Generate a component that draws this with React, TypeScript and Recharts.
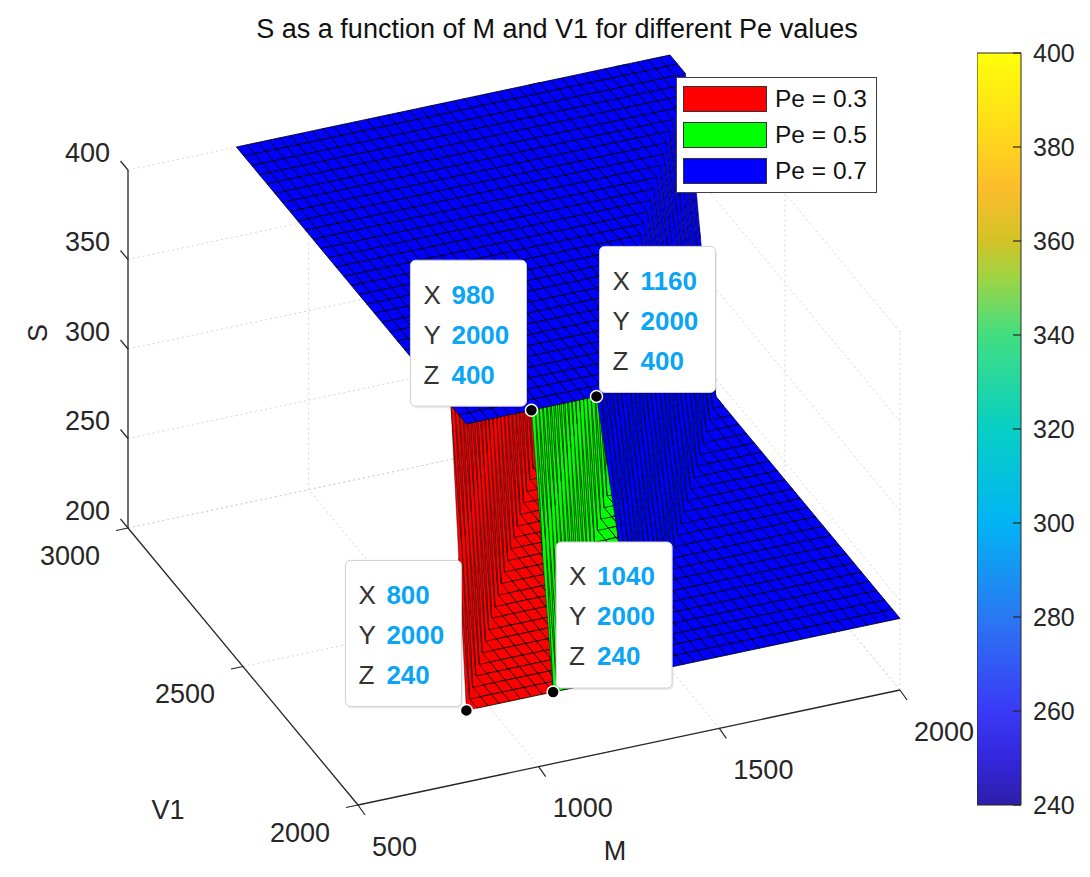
import React from 'react'
import { ScatterChart, Scatter, XAxis, YAxis, Legend, BarChart, Bar } from 'recharts'

const WIDTH = 1090
const HEIGHT = 877
const FONT = '"Liberation Sans", Arial, Helvetica, sans-serif'
const INK = '#262626'

// grid the surfaces are sampled on
const M_GRID = [
  800, 830, 860, 890, 920, 950, 980, 1010, 1040, 1070, 1100, 1130, 1160, 1190, 1220, 1250,
  1280, 1310, 1340, 1370, 1400, 1430, 1460, 1490, 1520, 1550, 1580, 1610, 1640, 1670, 1700,
  1730, 1760, 1790, 1820, 1850, 1880, 1910, 1940, 1970, 2000,
]
const V1_GRID = [
  2000, 2033, 2067, 2100, 2133, 2167, 2200, 2233, 2267, 2300, 2333, 2367, 2400, 2433, 2467,
  2500, 2533, 2567, 2600, 2633, 2667, 2700, 2733, 2767, 2800, 2833, 2867, 2900, 2933, 2967,
  3000,
]

// one surface per Pe
const PE_LABELS = ['Pe = 0.3', 'Pe = 0.5', 'Pe = 0.7']
const PE_COLORS = ['#ff0000', '#00ff00', '#0000ff']
// M column where S starts falling from 400 on the front row (V1 = 2000)
const DROP_START_M = [740, 980, 1160]
// the drop moves one M column further back for every V1 row
const DROP_SHIFT_PER_ROW = 1
// S on the successive M columns of the drop
const DROP_S_RED = [400, 320, 240]
const DROP_S_GREEN = [400, 320, 240]
const DROP_S_BLUE = [400, 360, 318, 278, 240]
const M_STEP = 30

// axes
const M_LIM = [500, 2000]
const V1_LIM = [2000, 3000]
const S_LIM = [200, 400]
const M_TICKS = [500, 1000, 1500, 2000]
const V1_TICKS = [2000, 2500, 3000]
const S_TICKS = [200, 250, 300, 350, 400]
const COLORBAR_TICKS = [240, 260, 280, 300, 320, 340, 360, 380, 400]
const COLORBAR_RANGE = [{ name: 'S', range: [240, 400] }]

// data tips
const TIP_M = [980, 1160, 800, 1040]
const TIP_V1 = [2000, 2000, 2000, 2000]
const TIP_S = [400, 400, 240, 240]
const TIP_SIDE = ['left', 'right', 'left', 'right']

const PARULA: [number, string][] = [
  [0, '#2e1ea8'],
  [0.06, '#3326dc'],
  [0.125, '#3a3af6'],
  [0.25, '#2a78f2'],
  [0.375, '#02b4f4'],
  [0.5, '#06cfc4'],
  [0.625, '#42de80'],
  [0.7, '#9dd444'],
  [0.75, '#d3c326'],
  [0.82, '#fcbd2c'],
  [0.875, '#ffd31e'],
  [1, '#ffff0a'],
]

// 3-D view: screen length of each full axis, in px (y up)
const VIEW = { mx: 542, my: 115, vx: -230, vy: 277, sy: 358 }
// where the (M=500, V1=2000, S=200) corner sits in the chart
const ORIGIN = { x: 358, y: 805 }
const X_DOMAIN = [-ORIGIN.x, WIDTH - ORIGIN.x]
const Y_DOMAIN = [ORIGIN.y - HEIGHT, ORIGIN.y]

const frac = (val: number, lim: number[]) => (val - lim[0]) / (lim[1] - lim[0])

function project(m: number, v: number, s: number) {
  const a = frac(m, M_LIM)
  const b = frac(v, V1_LIM)
  const c = frac(s, S_LIM)
  return { px: VIEW.mx * a + VIEW.vx * b, py: VIEW.my * a + VIEW.vy * b + VIEW.sy * c }
}

// direction that does not move on screen = towards the viewer
const NORMAL = [
  VIEW.vx * VIEW.sy,
  -VIEW.mx * VIEW.sy,
  VIEW.mx * VIEW.vy - VIEW.vx * VIEW.my,
]
function depth(m: number, v: number, s: number) {
  return frac(m, M_LIM) * NORMAL[0] + frac(v, V1_LIM) * NORMAL[1] + frac(s, S_LIM) * NORMAL[2]
}

const DROPS = [DROP_S_RED, DROP_S_GREEN, DROP_S_BLUE]
// S of surface k at grid node (column i, row j)
function nodeS(k: number, i: number, j: number) {
  const prof = DROPS[k]
  const col = Math.round((M_GRID[i] - DROP_START_M[k]) / M_STEP) - j * DROP_SHIFT_PER_ROW
  if (col <= 0) return prof[0]
  if (col >= prof.length - 1) return prof[prof.length - 1]
  return prof[col]
}

// build every mesh cell, far ones first
type Quad = { k: number; d: number; steep: boolean; corners: { px: number; py: number }[] }
const quads: Quad[] = []
const LAST = PE_LABELS.length - 1
for (let k = 0; k < PE_LABELS.length; k++) {
  for (let i = 0; i < M_GRID.length - 1; i++) {
    for (let j = 0; j < V1_GRID.length - 1; j++) {
      const nodes = [
        [i, j],
        [i + 1, j],
        [i + 1, j + 1],
        [i, j + 1],
      ]
      const s = nodes.map(([a, b]) => nodeS(k, a, b))
      // skip cells lying exactly under the last surface
      if (k < LAST && nodes.every(([a, b], n) => nodeS(LAST, a, b) === s[n])) continue
      let d = 0
      nodes.forEach(([a, b], n) => (d += depth(M_GRID[a], V1_GRID[b], s[n]) / 4))
      quads.push({
        k,
        d,
        steep: Math.max(...s) !== Math.min(...s),
        corners: nodes.map(([a, b], n) => project(M_GRID[a], V1_GRID[b], s[n])),
      })
    }
  }
}
quads.sort((a, b) => a.d - b.d || a.k - b.k)
const SURFACE_POINTS = quads.flatMap((q) => q.corners)
const SURFACE_FILLS = quads.map((q) => PE_COLORS[q.k])
const SURFACE_EDGES = quads.map((q) => (q.steep ? 0.45 : 0.8))

// back planes grid and axis lines, as pairs of end points
const line3 = (a: number[], b: number[]) => [project(a[0], a[1], a[2]), project(b[0], b[1], b[2])]
const GRID_POINTS = [
  ...S_TICKS.flatMap((s) => line3([M_LIM[0], V1_LIM[1], s], [M_LIM[1], V1_LIM[1], s])),
  ...M_TICKS.flatMap((m) => line3([m, V1_LIM[1], S_LIM[0]], [m, V1_LIM[1], S_LIM[1]])),
  ...S_TICKS.flatMap((s) => line3([M_LIM[1], V1_LIM[0], s], [M_LIM[1], V1_LIM[1], s])),
  ...V1_TICKS.flatMap((v) => line3([M_LIM[1], v, S_LIM[0]], [M_LIM[1], v, S_LIM[1]])),
  ...M_TICKS.flatMap((m) => line3([m, V1_LIM[0], S_LIM[0]], [m, V1_LIM[1], S_LIM[0]])),
  ...V1_TICKS.flatMap((v) => line3([M_LIM[0], v, S_LIM[0]], [M_LIM[1], v, S_LIM[0]])),
]
const AXIS_POINTS = [
  ...line3([M_LIM[0], V1_LIM[0], S_LIM[0]], [M_LIM[1], V1_LIM[0], S_LIM[0]]),
  ...line3([M_LIM[0], V1_LIM[0], S_LIM[0]], [M_LIM[0], V1_LIM[1], S_LIM[0]]),
  ...line3([M_LIM[0], V1_LIM[1], S_LIM[0]], [M_LIM[0], V1_LIM[1], S_LIM[1]]),
]

const TICK_POINTS = [
  ...M_TICKS.map((m) => ({ ...project(m, V1_LIM[0], S_LIM[0]), label: m, axis: 'm' })),
  ...V1_TICKS.map((v) => ({ ...project(M_LIM[0], v, S_LIM[0]), label: v, axis: 'v' })),
  ...S_TICKS.map((s) => ({ ...project(M_LIM[0], V1_LIM[1], s), label: s, axis: 's' })),
]
const TICK_STYLE: Record<string, any> = {
  m: { dx: 7, dy: 10, lx: 14, ly: 41, anchor: 'start' },
  v: { dx: -12, dy: 2.5, lx: -28, ly: 27, anchor: 'end' },
  s: { dx: -7.5, dy: -9, lx: -18, ly: -18, anchor: 'end' },
}

const TIP_POINTS = TIP_M.map((m, i) => ({
  ...project(m, TIP_V1[i], TIP_S[i]),
  m,
  v: TIP_V1[i],
  s: TIP_S[i],
  side: TIP_SIDE[i],
}))

const NoDot = () => <g />

const drawSegments = (stroke: string, width: number, dash?: string) => (props: any) => {
  const pts = props.points || []
  const out = []
  for (let i = 0; i + 1 < pts.length; i += 2) {
    out.push(
      <line
        key={i}
        x1={pts[i].x}
        y1={pts[i].y}
        x2={pts[i + 1].x}
        y2={pts[i + 1].y}
        stroke={stroke}
        strokeWidth={width}
        strokeDasharray={dash}
      />
    )
  }
  return <g>{out}</g>
}

const drawQuads = (props: any) => {
  const pts = props.points || []
  const out = []
  for (let q = 0; q * 4 + 3 < pts.length; q++) {
    const p = pts.slice(q * 4, q * 4 + 4)
    out.push(
      <polygon
        key={q}
        points={p.map((a: any) => `${a.x},${a.y}`).join(' ')}
        fill={SURFACE_FILLS[q]}
        stroke="#000"
        strokeWidth={SURFACE_EDGES[q]}
        strokeLinejoin="round"
      />
    )
  }
  return <g>{out}</g>
}

const TickShape = (props: any) => {
  const { cx, cy, payload } = props
  const t = TICK_STYLE[payload.axis]
  return (
    <g>
      <line x1={cx} y1={cy} x2={cx + t.dx} y2={cy + t.dy} stroke={INK} strokeWidth={1.2} />
      <text
        x={cx + t.lx}
        y={cy + t.ly}
        dy="0.36em"
        textAnchor={t.anchor}
        fontSize={27}
        fontFamily={FONT}
        fill={INK}
      >
        {payload.label}
      </text>
    </g>
  )
}

const TipShape = (props: any) => {
  const { cx, cy, payload } = props
  const bw = 116
  const bh = 146
  const bx = payload.side === 'left' ? cx - 5 - bw : cx + 3
  const by = cy - 4 - bh
  const rows = [
    ['X', payload.m],
    ['Y', payload.v],
    ['Z', payload.s],
  ]
  return (
    <g>
      <rect x={bx + 1.5} y={by + 2} width={bw} height={bh} rx={5} fill="#000" opacity={0.08} />
      <rect x={bx} y={by} width={bw} height={bh} rx={5} fill="#fff" stroke="#d0d0d0" />
      {rows.map(([l, v], i) => (
        <text key={i} y={by + 34 + 40 * i} dy="0.36em" fontSize={26} fontFamily={FONT}>
          <tspan x={bx + 13} fill="#333">
            {l}
          </tspan>
          <tspan x={bx + 41} fill="#0aa5f5" fontWeight="bold">
            {v}
          </tspan>
        </text>
      ))}
      <circle cx={cx} cy={cy} r={6} fill="#000" stroke="#fff" strokeWidth={1.5} />
    </g>
  )
}

const LegendBox = () => (
  <div
    style={{
      width: 201,
      height: 116,
      boxSizing: 'border-box',
      border: '1px solid #404040',
      background: '#fff',
      position: 'relative',
      fontFamily: FONT,
    }}
  >
    {PE_LABELS.map((label, i) => (
      <div
        key={label}
        style={{ position: 'absolute', left: 6, top: 8 + i * 36, height: 26, display: 'flex', alignItems: 'center' }}
      >
        <div
          style={{ width: 84, height: 26, boxSizing: 'border-box', background: PE_COLORS[i], border: '1px solid #333' }}
        />
        <span style={{ marginLeft: 8, fontSize: 24.5, lineHeight: '26px', color: '#111' }}>{label}</span>
      </div>
    ))}
  </div>
)

const ColorbarTick = (props: any) => {
  const { x, y, payload } = props
  return (
    <g>
      <line x1={x - 8} x2={x} y1={y} y2={y} stroke={INK} strokeWidth={1.2} />
      <text x={x + 12} y={y} dy="0.36em" textAnchor="start" fontSize={25} fontFamily={FONT} fill={INK}>
        {payload.value}
      </text>
    </g>
  )
}

const textStyle = (x: number, y: number, size: number, rotate = 0): React.CSSProperties => ({
  position: 'absolute',
  left: x,
  top: y,
  transform: `translate(-50%, -50%) rotate(${rotate}deg)`,
  fontSize: size,
  color: INK,
  whiteSpace: 'nowrap',
  lineHeight: 1,
})

export default function App() {
  return (
    <div style={{ position: 'relative', width: WIDTH, height: HEIGHT, background: '#fff', fontFamily: FONT }}>
      <style>{'body{margin:0}'}</style>
      <ScatterChart width={WIDTH} height={HEIGHT} margin={{ top: 0, right: 0, bottom: 0, left: 0 }}>
        <XAxis type="number" dataKey="px" domain={X_DOMAIN} allowDataOverflow hide />
        <YAxis type="number" dataKey="py" domain={Y_DOMAIN} allowDataOverflow hide />
        <Scatter
          data={GRID_POINTS}
          line={drawSegments('#d6d6d6', 1, '2 3')}
          shape={NoDot}
          legendType="none"
          isAnimationActive={false}
        />
        <Scatter
          data={AXIS_POINTS}
          line={drawSegments(INK, 1.3)}
          shape={NoDot}
          legendType="none"
          isAnimationActive={false}
        />
        <Scatter data={SURFACE_POINTS} line={drawQuads} shape={NoDot} legendType="none" isAnimationActive={false} />
        <Scatter data={TICK_POINTS} shape={TickShape} legendType="none" isAnimationActive={false} />
        <Scatter data={TIP_POINTS} shape={TipShape} legendType="none" isAnimationActive={false} />
        <Legend
          content={LegendBox}
          layout="vertical"
          align="center"
          verticalAlign="middle"
          wrapperStyle={{ left: 676, top: 77, width: 201, height: 116 }}
        />
      </ScatterChart>

      <div style={{ position: 'absolute', left: 977, top: 33 }}>
        <BarChart
          width={114}
          height={792}
          data={COLORBAR_RANGE}
          margin={{ top: 20, right: 0, bottom: 20, left: 0 }}
          barCategoryGap={0}
        >
          <defs>
            <linearGradient id="parula" x1="0" y1="1" x2="0" y2="0">
              {PARULA.map(([o, c]) => (
                <stop key={o} offset={`${o * 100}%`} stopColor={c} />
              ))}
            </linearGradient>
          </defs>
          <XAxis dataKey="name" hide />
          <YAxis
            type="number"
            orientation="right"
            domain={[240, 400]}
            ticks={COLORBAR_TICKS}
            interval={0}
            width={70}
            axisLine={false}
            tickLine={false}
            tickSize={0}
            tickMargin={0}
            tick={ColorbarTick}
          />
          <Bar dataKey="range" fill="url(#parula)" stroke={INK} strokeWidth={1} isAnimationActive={false} />
        </BarChart>
      </div>

      <div style={{ ...textStyle(557, 29, 27), color: '#111' }}>
        S as a function of M and V1 for different Pe values
      </div>
      <div style={textStyle(38, 333, 27, -90)}>S</div>
      <div style={textStyle(168, 810, 27)}>V1</div>
      <div style={textStyle(615, 851, 27)}>M</div>
    </div>
  )
}
